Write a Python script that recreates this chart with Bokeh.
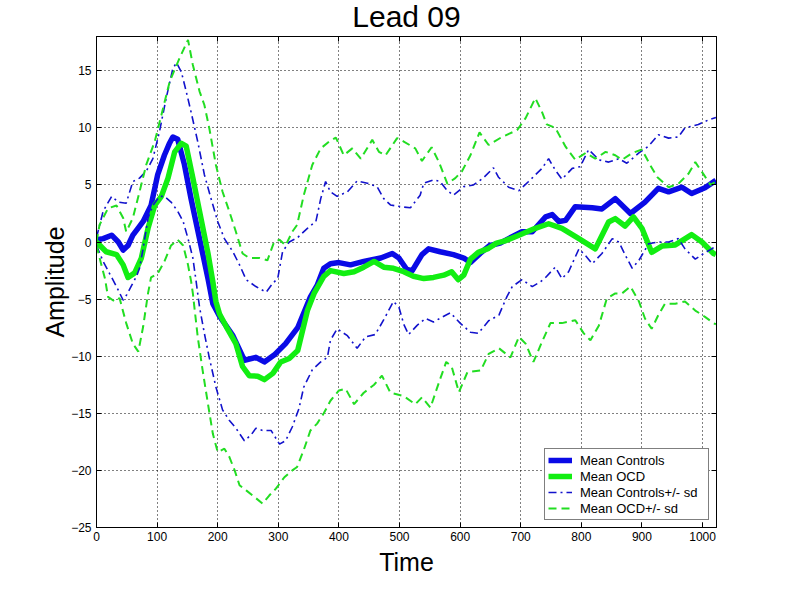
from bokeh.plotting import figure
from bokeh.models import (Range1d, FixedTicker, LinearAxis, Legend, LegendItem, Label)
from bokeh.embed import file_html
from bokeh.resources import INLINE

# ---------------- data ----------------
title_text = "Lead 09"
x_label = "Time"
y_label = "Amplitude"
x_ticks = [0, 100, 200, 300, 400, 500, 600, 700, 800, 900, 1000]
y_ticks = [-25, -20, -15, -10, -5, 0, 5, 10, 15]
series_names = ["Mean Controls", "Mean OCD", "Mean Controls+/- sd", "Mean OCD+/- sd"]

ctrl_t = [0, 11, 25, 36, 44, 52, 60, 70, 77, 90, 101, 112, 120, 126, 134, 145, 156, 170, 184, 192,
          203, 225, 244, 263, 277, 293, 312, 332, 353, 364, 375, 386, 400, 419, 441, 469, 488, 499,
          512, 521, 537, 548, 567, 589, 606, 617, 633, 649, 666, 680, 702, 719, 741, 752, 763, 774,
          790, 818, 834, 856, 881, 905, 927, 944, 966, 982, 1004, 1022]
ctrl_v = [0.2, 0.3, 0.6, 0.0, -0.7, -0.3, 0.6, 1.3, 1.8, 3.2, 5.9, 7.6, 8.6, 9.2, 9.0, 6.8, 3.8, 0.3, -3.2, -5.4,
          -6.5, -8.2, -10.35, -10.1, -10.5, -9.9, -8.9, -7.5, -4.8, -3.8, -2.3, -1.9, -1.8, -2.0, -1.7, -1.4, -1.0, -1.4,
          -2.4, -2.5, -1.1, -0.6, -0.85, -1.1, -1.4, -1.8, -1.0, -0.3, -0.1, 0.3, 0.9, 0.9, 2.2, 2.4, 1.8, 1.9,
          3.1, 3.0, 2.9, 3.8, 2.5, 3.5, 4.7, 4.4, 4.8, 4.25, 4.75, 5.4]

ocd_t = [0, 16, 33, 44, 52, 63, 74, 85, 96, 107, 118, 129, 140, 148, 159, 170, 184, 192, 197, 203,
         214, 230, 241, 252, 266, 277, 291, 304, 318, 332, 348, 359, 375, 386, 408, 425, 441, 458, 474,
         490, 507, 523, 540, 556, 573, 586, 597, 606, 617, 630, 647, 660, 674, 697, 724, 746, 768, 796,
         823, 845, 856, 872, 886, 900, 916, 933, 955, 982, 999, 1018, 1022]
ocd_v = [0.0, -0.85, -1.1, -2.0, -3.1, -2.7, -1.4, 1.2, 3.2, 4.0, 5.6, 7.9, 8.65, 8.4, 5.6, 2.7, -1.0, -3.5, -5.2, -6.3,
         -7.4, -8.9, -10.9, -11.7, -11.75, -12.05, -11.5, -10.5, -10.2, -9.5, -6.0, -4.5, -3.0, -2.5, -2.75, -2.6, -2.2, -1.7, -2.2,
         -2.3, -2.6, -3.0, -3.2, -3.1, -2.9, -2.6, -3.3, -2.9, -1.5, -0.9, -0.55, -0.1, 0.1, 0.6, 1.2, 1.6, 1.2, 0.3,
         -0.6, 1.75, 2.05, 1.4, 2.2, 1.2, -0.9, -0.35, -0.25, 0.65, 0.0, -1.0, -1.1]

ctrl_up_t = [0, 11, 25, 36, 49, 60, 71, 82, 93, 104, 115, 126, 132, 140, 148, 156, 167, 178, 189, 200,
             211, 225, 236, 247, 263, 280, 291, 299, 307, 318, 332, 348, 362, 370, 378, 386, 397, 414, 430,
             447, 463, 474, 485, 501, 518, 534, 540, 556, 567, 578, 589, 606, 622, 638, 655, 663, 680, 697,
             713, 735, 746, 757, 768, 785, 798, 812, 829, 845, 862, 875, 895, 911, 927, 944, 960, 971, 993,
             1010, 1022]
ctrl_up_v = [0.4, 2.7, 4.0, 3.5, 3.4, 5.3, 5.6, 6.2, 7.3, 9.7, 12.6, 15.2, 15.7, 14.9, 13.2, 11.4, 8.8, 5.9, 3.8, 1.8,
             0.3, -0.85, -2.0, -3.3, -3.9, -4.4, -3.6, -3.2, -0.85, 0.0, 0.4, 1.2, 1.8, 3.8, 5.3, 4.4, 4.0, 4.4, 5.35,
             5.15, 4.85, 3.8, 3.25, 3.1, 3.0, 4.1, 5.15, 5.45, 5.3, 4.55, 4.1, 4.85, 5.0, 5.6, 6.5, 5.7, 4.8, 4.5,
             5.3, 6.45, 7.3, 6.3, 5.5, 6.45, 6.6, 8.1, 7.2, 7.0, 7.3, 6.9, 7.8, 8.4, 9.4, 9.1, 9.2, 10.0, 10.3,
             10.7, 10.9]

ctrl_lo_t = [0, 11, 22, 33, 44, 50, 58, 66, 71, 77, 85, 93, 104, 112, 123, 134, 143, 151, 159, 164,
             170, 178, 186, 197, 208, 219, 230, 244, 255, 263, 274, 288, 302, 312, 323, 334, 342, 356, 370,
             381, 386, 397, 414, 430, 444, 460, 474, 490, 499, 507, 515, 529, 543, 556, 573, 584, 600, 617,
             630, 647, 664, 677, 686, 702, 719, 732, 741, 757, 768, 779, 796, 807, 818, 834, 851, 862, 873,
             884, 895, 911, 927, 944, 960, 971, 988, 1002, 1015, 1022]
ctrl_lo_v = [-0.3, -1.7, -2.8, -3.9, -5.1, -4.6, -3.8, -3.0, -2.3, -0.55, 2.1, 3.2, 4.0, 4.0, 3.5, 2.7, 1.8, 0.3, -1.4, -3.3,
             -5.7, -8.0, -10.1, -12.7, -14.7, -15.6, -16.3, -17.4, -16.9, -16.3, -16.5, -16.5, -17.7, -17.4, -16.2, -14.6, -12.7, -11.2, -10.5,
             -10.1, -8.6, -7.6, -8.2, -9.3, -8.3, -8.1, -6.8, -5.2, -5.7, -7.2, -8.1, -7.3, -6.7, -7.0, -6.5, -6.2, -7.1, -7.9,
             -8.0, -6.9, -6.4, -4.8, -3.9, -3.3, -3.9, -3.5, -3.1, -2.2, -3.2, -2.6, -0.6, -1.2, -1.9, -1.0, 0.3, 0.0, -1.2,
             -2.3, -1.6, -0.15, 0.0, 0.0, 0.3, -0.6, -1.5, -1.0, -0.6, -0.35]

ocd_up_t = [0, 5, 19, 33, 44, 49, 60, 71, 82, 96, 107, 121, 137, 151, 159, 170, 178, 186, 197, 208,
            219, 230, 241, 252, 269, 282, 293, 302, 312, 323, 331, 342, 356, 370, 384, 395, 408, 422, 436,
            455, 466, 477, 496, 507, 526, 537, 553, 565, 579, 592, 603, 617, 632, 647, 669, 694, 708, 724,
            735, 743, 757, 774, 790, 807, 823, 840, 856, 867, 884, 900, 914, 925, 944, 960, 977, 988, 1002,
            1013, 1022]
ocd_up_v = [0.0, 1.5, 2.95, 3.2, 2.1, 0.9, 2.1, 4.4, 6.75, 8.8, 11.1, 14.1, 16.1, 17.7, 15.5, 13.2, 12.0, 10.0, 6.75, 4.4,
            2.7, 0.9, -1.0, -1.4, -1.4, -1.6, 0.0, 0.2, -0.3, 0.9, 1.5, 4.1, 6.75, 8.2, 8.8, 9.15, 7.6, 8.2, 7.3,
            8.95, 7.9, 7.6, 9.1, 8.8, 8.2, 7.1, 8.3, 7.0, 5.1, 5.6, 6.2, 7.6, 9.6, 8.5, 9.2, 9.8, 10.85, 12.6,
            11.4, 10.3, 10.0, 8.35, 7.2, 7.8, 7.3, 7.9, 7.6, 7.2, 7.8, 8.1, 6.7, 5.7, 4.8, 5.1, 6.0, 7.0, 5.9,
            5.0, 5.3]

ocd_lo_t = [0, 8, 14, 19, 30, 38, 49, 60, 69, 77, 85, 90, 101, 112, 123, 134, 143, 151, 156, 159,
            167, 175, 184, 192, 200, 211, 219, 228, 236, 247, 260, 274, 285, 296, 310, 323, 331, 342, 353,
            364, 375, 386, 400, 411, 425, 441, 458, 471, 485, 507, 526, 537, 551, 565, 577, 586, 598, 612,
            634, 647, 664, 683, 697, 708, 721, 735, 749, 768, 790, 804, 815, 829, 842, 856, 867, 881, 895,
            905, 916, 927, 938, 955, 971, 988, 1004, 1018, 1022]
ocd_lo_v = [-0.3, -2.0, -3.2, -4.8, -5.2, -4.9, -7.1, -8.9, -9.6, -7.4, -4.5, -3.1, -2.75, -1.7, -0.3, 0.2, -0.3, -2.0, -3.4, -4.5,
            -8.3, -11.2, -14.2, -16.8, -18.4, -18.1, -18.8, -20.0, -21.3, -21.75, -22.3, -22.9, -22.2, -21.6, -20.6, -20.0, -19.7, -18.2, -16.5,
            -15.9, -15.0, -13.9, -13.0, -12.85, -14.2, -13.2, -12.5, -11.7, -13.2, -13.5, -14.2, -13.6, -14.5, -12.3, -10.5, -10.9, -13.15, -11.4,
            -11.25, -9.8, -9.3, -10.1, -8.3, -8.9, -10.5, -8.75, -7.1, -7.1, -6.85, -8.0, -8.6, -7.3, -4.95, -4.5, -4.5, -3.9, -5.2,
            -6.7, -7.6, -6.4, -5.4, -5.4, -5.2, -6.0, -6.55, -7.1, -7.2]

x_start, x_end = 0, 1023
y_start, y_end = -25, 18

# ---------------- styling ----------------
FONT = "Liberation Sans"
BLUE = "#0a0ae6"
GREEN = "#12ee12"
BLUE_SD = "#1212cc"
GREEN_SD = "#22dd22"

p = figure(frame_width=620, frame_height=491,
           min_border_left=96, min_border_right=68, min_border_top=36, min_border_bottom=58,
           x_range=Range1d(x_start, x_end), y_range=Range1d(y_start, y_end),
           output_backend="svg", toolbar_location=None,
           background_fill_color="white", border_fill_color="white")
p.outline_line_color = "black"
p.outline_line_width = 1

for ax in (p.xaxis[0], p.yaxis[0]):
    ax.major_label_text_font = FONT
    ax.major_label_text_font_size = "12px"
    ax.major_label_text_color = "black"
    ax.major_tick_in = 5
    ax.major_tick_out = 0
    ax.minor_tick_line_color = None
    ax.axis_line_color = "black"
    ax.major_tick_line_color = "black"
    ax.axis_label_text_font = FONT
    ax.axis_label_text_font_size = "25px"
    ax.axis_label_text_font_style = "normal"
    ax.axis_label_text_color = "black"

p.xaxis[0].ticker = FixedTicker(ticks=x_ticks)
p.yaxis[0].ticker = FixedTicker(ticks=y_ticks)
p.xaxis[0].axis_label = x_label
p.yaxis[0].axis_label = y_label
p.xaxis[0].major_label_standoff = 4
p.yaxis[0].major_label_standoff = 5
p.xaxis[0].axis_label_standoff = 4
p.yaxis[0].axis_label_standoff = -1

# tick marks on the top and right edges (no labels drawn)
top_ax = LinearAxis(ticker=FixedTicker(ticks=x_ticks), major_label_text_font_size="1px",
                    major_label_text_color=None,
                    major_tick_in=5, major_tick_out=0, minor_tick_line_color=None,
                    axis_line_color="black", major_label_standoff=0)
right_ax = LinearAxis(ticker=FixedTicker(ticks=y_ticks), major_label_text_font_size="1px",
                      major_label_text_color=None,
                      major_tick_in=5, major_tick_out=0, minor_tick_line_color=None,
                      axis_line_color="black", major_label_standoff=0)
p.add_layout(top_ax, "above")
p.add_layout(right_ax, "right")

for g in (p.xgrid[0], p.ygrid[0]):
    g.grid_line_color = "black"
    g.grid_line_alpha = 1.0
    g.grid_line_width = 1
    g.grid_line_dash = "1 3"
p.xgrid[0].ticker = FixedTicker(ticks=x_ticks)
p.ygrid[0].ticker = FixedTicker(ticks=y_ticks)

r1 = p.line(ctrl_t, ctrl_v, line_color=BLUE, line_width=5.5, line_join="round")
r2 = p.line(ocd_t, ocd_v, line_color=GREEN, line_width=5.5, line_join="round")
r3 = p.line(ctrl_up_t, ctrl_up_v, line_color=BLUE_SD, line_width=1.6, line_dash="8 4 2 4")
r4 = p.line(ctrl_lo_t, ctrl_lo_v, line_color=BLUE_SD, line_width=1.6, line_dash="8 4 2 4")
r5 = p.line(ocd_up_t, ocd_up_v, line_color=GREEN_SD, line_width=2, line_dash="8 5")
r6 = p.line(ocd_lo_t, ocd_lo_v, line_color=GREEN_SD, line_width=2, line_dash="8 5")

legend = Legend(items=[LegendItem(label=series_names[0], renderers=[r1]),
                       LegendItem(label=series_names[1], renderers=[r2]),
                       LegendItem(label=series_names[2], renderers=[r3]),
                       LegendItem(label=series_names[3], renderers=[r5])],
                location=(448, 7), margin=0, padding=3, spacing=0,
                glyph_width=24, glyph_height=16, label_height=16, label_width=125,
                label_standoff=8, label_text_font=FONT, label_text_font_size="13px",
                label_text_color="black", border_line_color="black", border_line_width=1,
                background_fill_color="white", background_fill_alpha=1.0)
p.add_layout(legend, "center")

# title placed in the panel above the plot area (not clipped to the frame)
title = Label(x=310, y=20, x_units="screen", y_units="screen", text=title_text,
              text_font=FONT, text_font_size="30px", text_color="black",
              text_align="center", text_baseline="alphabetic")
p.add_layout(title, "above")

open("out.html", "w").write(file_html(p, INLINE))
